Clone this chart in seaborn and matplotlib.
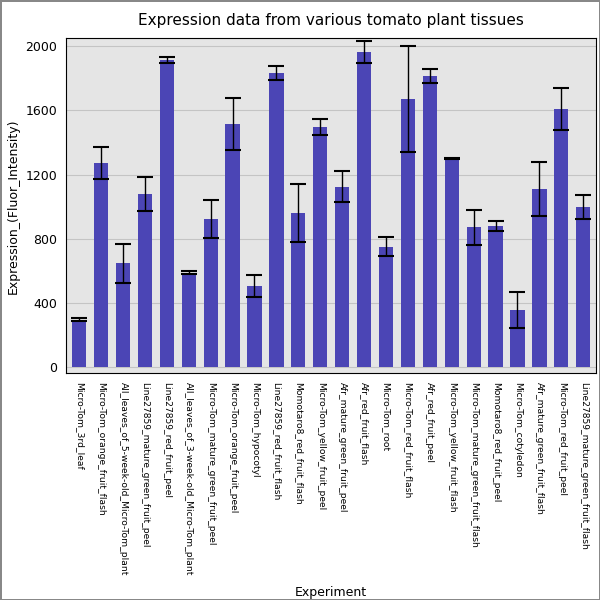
import matplotlib
matplotlib.use("Agg")
import matplotlib.pyplot as plt
import seaborn as sns
import pandas as pd

experiments = ["Micro-Tom_3rd_leaf","Micro-Tom_orange_fruit_flash","All_leaves_of_5-week-old_Micro-Tom_plant",
 "Line27859_mature_green_fruit_peel","Line27859_red_fruit_peel","All_leaves_of_3-week-old_Micro-Tom_plant",
 "Micro-Tom_mature_green_fruit_peel","Micro-Tom_orange_fruit_peel","Micro-Tom_hypocotyl",
 "Line27859_red_fruit_flash","Momotaro8_red_fruit_flash","Micro-Tom_yellow_fruit_peel",
 "Afr_mature_green_fruit_peel","Afr_red_fruit_flash","Micro-Tom_root","Micro-Tom_red_fruit_flash",
 "Afr_red_fruit_peel","Micro-Tom_yellow_fruit_flash","Micro-Tom_mature_green_fruit_flash",
 "Momotaro8_red_fruit_peel","Micro-Tom_cotyledon","Afr_mature_green_fruit_flash",
 "Micro-Tom_red_fruit_peel","Line27859_mature_green_fruit_flash"]
values = [295,1270,645,1080,1915,588,925,1515,505,1835,960,1495,1125,1965,750,1670,1815,1300,870,880,355,1110,1610,1000]
errors = [8,100,120,105,20,10,118,160,68,42,178,50,95,68,60,330,45,4,108,32,115,170,130,75]

sns.set_style("darkgrid", {"axes.facecolor": "#e5e5e5", "grid.color": "#c4c4c4",
                           "text.color": "black", "xtick.color": "black", "ytick.color": "black",
                           "axes.labelcolor": "black"})
plt.rcParams['font.family'] = ['DejaVu Sans']
fig = plt.figure(figsize=(6, 6), dpi=100)
fig.patch.set_edgecolor("#888888"); fig.patch.set_linewidth(1)
ax = fig.add_axes([0.11, 0.378, 0.884, 0.558])
df = pd.DataFrame({"Experiment": experiments, "v": values})
sns.barplot(data=df, x="Experiment", y="v", color="#4b45b5", saturation=1, width=0.65,
            linewidth=0, ax=ax)
ax.errorbar(range(len(values)), values, yerr=errors, fmt="none", ecolor="black",
            elinewidth=1, capsize=6, capthick=1.5)
ax.set_ylim(-40, 2050)
ax.set_xlim(-0.6, len(values) - 0.4)
ax.set_yticks(range(0, 2001, 400))
ax.tick_params(axis="x", labelrotation=-90, labelsize=6.6, length=3)
ax.tick_params(axis="y", labelsize=9, length=3)
for lbl in ax.get_xticklabels():
    lbl.set_ha("center")
ax.set_ylabel("Expression_(Fluor_Intensity)", fontsize=9)
ax.set_xlabel("Experiment", fontsize=9)
ax.xaxis.set_label_coords(0.5, -0.635)
for s in ax.spines.values():
    s.set_visible(True); s.set_color("black"); s.set_linewidth(0.8)
ax.set_title("Expression data from various tomato plant tissues", fontsize=11, pad=10, color="black")
fig.savefig("out.png", dpi=100)
